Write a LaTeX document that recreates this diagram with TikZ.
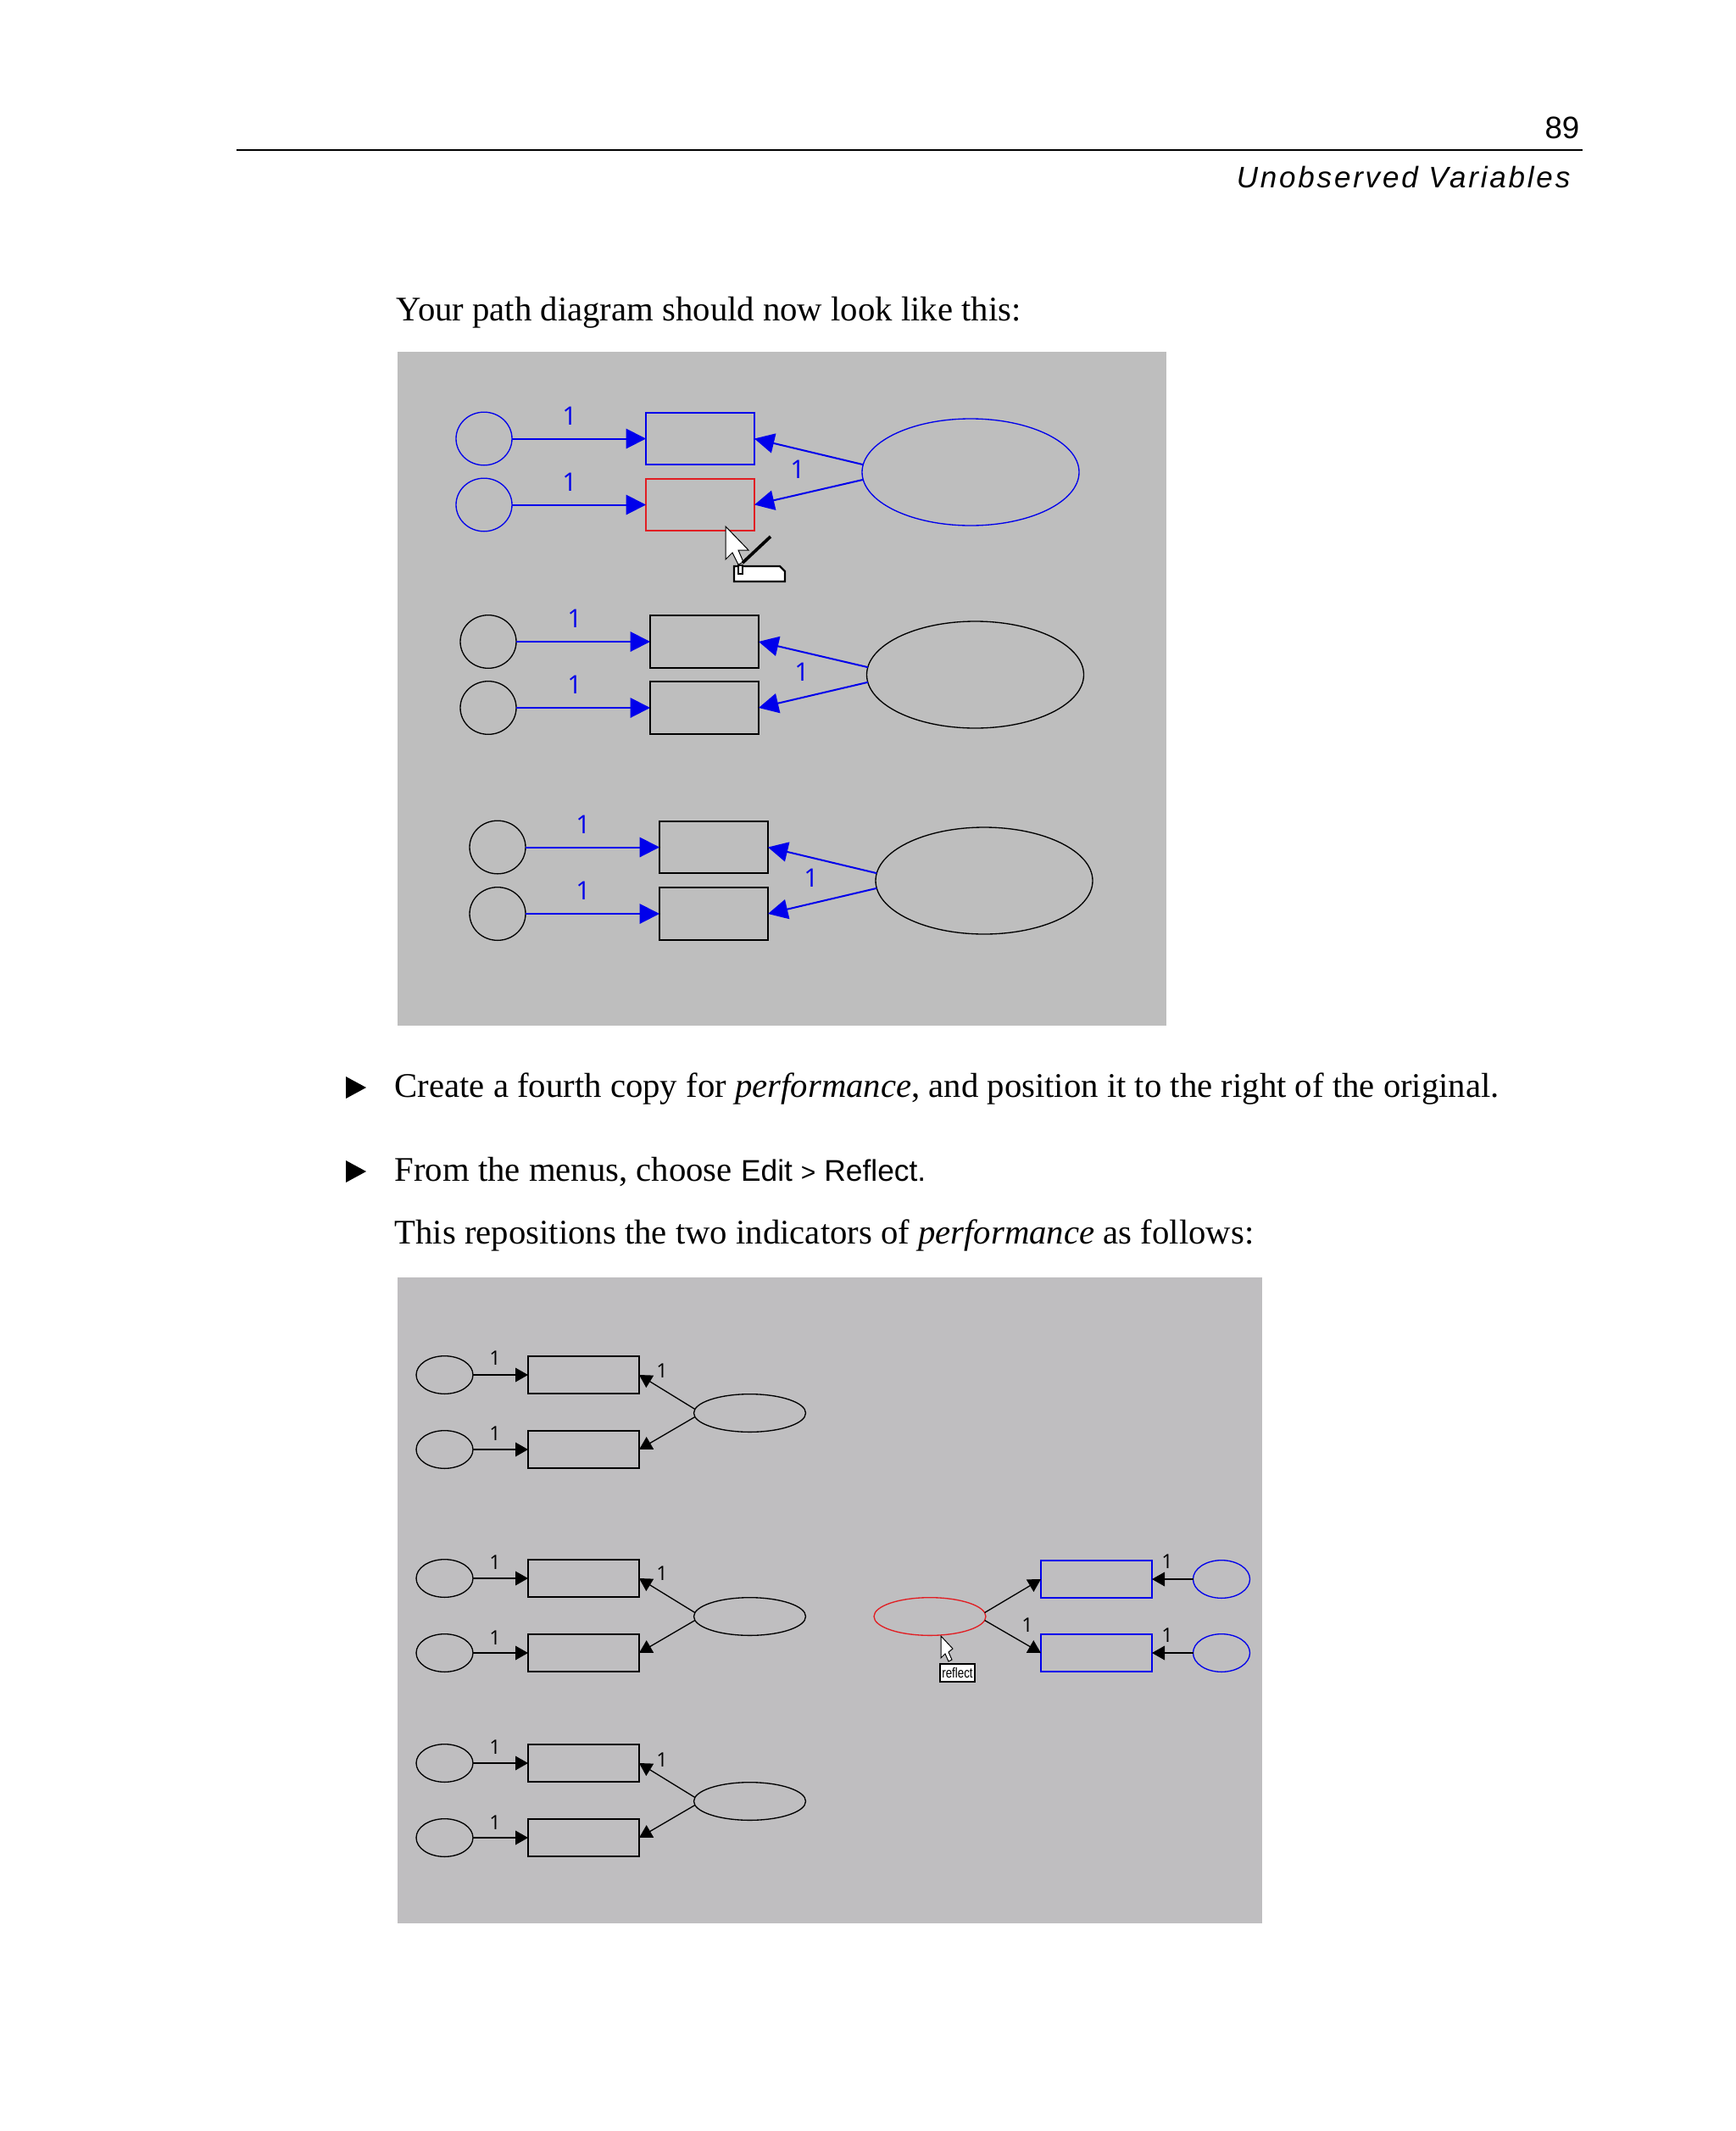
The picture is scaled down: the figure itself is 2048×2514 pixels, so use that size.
\documentclass[tikz,border=0pt]{standalone}
\usepackage{fontspec}
\setmainfont{Liberation Serif}
\setsansfont{Liberation Sans}
\newfontfamily\wtfont{Open Sans}
\usetikzlibrary{shapes.geometric,arrows.meta}
\definecolor{panelone}{RGB}{190,190,190}
\definecolor{paneltwo}{RGB}{191,190,192}
\definecolor{pathblue}{RGB}{0,0,235}
\definecolor{pathred}{RGB}{225,30,35}
\tikzset{
	obsbox/.style={draw,rectangle,minimum width=38.4pt,minimum height=18.4pt,inner sep=0pt,outer sep=0pt,line width=0.6pt},
	errbig/.style={draw,ellipse,minimum width=19.8pt,minimum height=18.8pt,inner sep=0pt,outer sep=0pt,line width=0.4pt},
	latbig/.style={draw,ellipse,minimum width=76.8pt,minimum height=37.8pt,inner sep=0pt,outer sep=0pt,line width=0.4pt},
	obsflat/.style={draw,rectangle,minimum width=39.3pt,minimum height=13.2pt,inner sep=0pt,outer sep=0pt,line width=0.4pt},
	errflat/.style={draw,ellipse,minimum width=20.1pt,minimum height=13.4pt,inner sep=0pt,outer sep=0pt,line width=0.4pt},
	latflat/.style={draw,ellipse,minimum width=39.6pt,minimum height=13.4pt,inner sep=0pt,outer sep=0pt,line width=0.4pt},
	bigpath/.style={pathblue,line width=0.6pt,-{Triangle[length=7pt,width=7pt]}},
	flatpath/.style={black,line width=0.4pt,-{Triangle[length=4.5pt,width=5pt]}},
	wtbig/.style={pathblue,font=\wtfont\fontsize{9}{10}\selectfont,inner sep=0pt},
	wtflat/.style={font=\wtfont\fontsize{7}{8}\selectfont,inner sep=0pt},
	booktext/.style={anchor=base west,inner sep=0pt,font=\fontsize{12.22}{14}\selectfont},
	mouse/.style={fill=white,draw=black,line width=0.3pt}
}
\begin{document}
\begin{tikzpicture}[x=0.3pt,y=-0.3pt]
	\useasboundingbox[fill=white] (0,0) rectangle (2048,2514);
	% running head
	\node[anchor=base east,inner sep=0pt,font=\sffamily\fontsize{11}{12}\selectfont] (pageno) at (1864,163) {89};
	\coordinate (ruleleft) at (279,177);
	\coordinate (ruleright) at (1867,177);
	\draw[line width=0.55pt] (ruleleft) -- (ruleright);
	\node[anchor=base east,inner sep=0pt,font=\sffamily\itshape\fontsize{10.5}{12}\selectfont\addfontfeatures{LetterSpace=8}] (runhead) at (1853,221) {Unobserved Variables};
	\node[booktext] (intro) at (467,378) {Your path diagram should now look like this:};
	% first screen shot
	\fill[panelone] (469,415) rectangle (1376,1210);
	\node[errbig,draw=pathblue] (ea) at (571,517.5) {};
	\node[errbig,draw=pathblue] (eb) at (571,595.5) {};
	\node[obsbox,draw=pathblue] (xa) at (826,517.5) {};
	\node[obsbox,draw=pathred] (xb) at (826,595.5) {};
	\node[latbig,draw=pathblue] (fa) at (1145,557) {};
	\draw[bigpath] (ea) -- (xa);
	\draw[bigpath] (eb) -- (xb);
	\draw[bigpath] (fa.176) -- (xa.east);
	\draw[bigpath] (fa.184) -- (xb.east);
	\node[wtbig] (wa) at (672,491) {1};
	\node[wtbig] (wb) at (672,569) {1};
	\node[wtbig] (wc) at (941,554) {1};
	% mouse with pen
	\draw[mouse] (856,621) -- (856,660) -- (864,652) -- (871,666) -- (877,663) -- (871,649) -- (883,649) -- cycle;
	\draw[line width=1.1pt] (876,664) -- (909,633);
	\draw[fill=white,line width=0.7pt] (866,686) -- (866,668) -- (920,668) -- (926,674) -- (926,686) -- cycle;
	\draw[fill=white,line width=0.4pt] (871,667) rectangle (876,677);
	% second group
	\node[errbig] (ec) at (576,757) {};
	\node[errbig] (ed) at (576,835) {};
	\node[obsbox] (xc) at (831,757) {};
	\node[obsbox] (xd) at (831,835) {};
	\node[latbig] (fb) at (1150.5,796) {};
	\draw[bigpath] (ec) -- (xc);
	\draw[bigpath] (ed) -- (xd);
	\draw[bigpath] (fb.176) -- (xc.east);
	\draw[bigpath] (fb.184) -- (xd.east);
	\node[wtbig] (wd) at (678,730) {1};
	\node[wtbig] (we) at (678,808) {1};
	\node[wtbig] (wf) at (946,793) {1};
	% third group
	\node[errbig] (ee) at (587,999.5) {};
	\node[errbig] (ef) at (587,1078) {};
	\node[obsbox] (xe) at (842,999.5) {};
	\node[obsbox] (xf) at (842,1078) {};
	\node[latbig] (fc) at (1161,1039) {};
	\draw[bigpath] (ee) -- (xe);
	\draw[bigpath] (ef) -- (xf);
	\draw[bigpath] (fc.176) -- (xe.east);
	\draw[bigpath] (fc.184) -- (xf.east);
	\node[wtbig] (wg) at (688,973) {1};
	\node[wtbig] (wh) at (688,1051) {1};
	\node[wtbig] (wi) at (957,1036) {1};
	% the text between
	\fill (408,1270) -- (408,1296) -- (432,1283) -- cycle;
	\node[booktext] (stepa) at (465,1294) {Create a fourth copy for \textit{performance}, and position it to the right of the original.};
	\fill (408,1369) -- (408,1395) -- (432,1382) -- cycle;
	\node[booktext] (stepb) at (465,1393) {From the menus, choose {\sffamily\fontsize{10.6}{14}\selectfont Edit\kern3pt{\fontsize{9}{14}\selectfont>}\kern3pt Reflect.}};
	\node[booktext] (stepc) at (465,1467) {This repositions the two indicators of \textit{performance} as follows:};
	% second screen shot
	\fill[paneltwo] (469,1507) rectangle (1489,2269);
	\node[errflat] (ga) at (524.5,1622) {};
	\node[errflat] (gb) at (524.5,1710) {};
	\node[obsflat] (ya) at (688.5,1622) {};
	\node[obsflat] (yb) at (688.5,1710) {};
	\node[latflat] (ha) at (884.5,1667) {};
	\draw[flatpath] (ga) -- (ya);
	\draw[flatpath] (gb) -- (yb);
	\draw[flatpath] (ha.176) -- (ya.east);
	\draw[flatpath] (ha.184) -- (yb.east);
	\node[wtflat] (va) at (584,1602) {1};
	\node[wtflat] (vb) at (584,1691) {1};
	\node[wtflat] (vc) at (781,1617) {1};
	% next row
	\node[errflat] (gc) at (524.5,1862) {};
	\node[errflat] (gd) at (524.5,1950) {};
	\node[obsflat] (yc) at (688.5,1862) {};
	\node[obsflat] (yd) at (688.5,1950) {};
	\node[latflat] (hb) at (884.5,1907) {};
	\draw[flatpath] (gc) -- (yc);
	\draw[flatpath] (gd) -- (yd);
	\draw[flatpath] (hb.176) -- (yc.east);
	\draw[flatpath] (hb.184) -- (yd.east);
	\node[wtflat] (vd) at (584,1843) {1};
	\node[wtflat] (ve) at (584,1932) {1};
	\node[wtflat] (vf) at (781,1856) {1};
	% last row
	\node[errflat] (ge) at (524.5,2080) {};
	\node[errflat] (gf) at (524.5,2168) {};
	\node[obsflat] (ye) at (688.5,2080) {};
	\node[obsflat] (yf) at (688.5,2168) {};
	\node[latflat] (hc) at (884.5,2125) {};
	\draw[flatpath] (ge) -- (ye);
	\draw[flatpath] (gf) -- (yf);
	\draw[flatpath] (hc.176) -- (ye.east);
	\draw[flatpath] (hc.184) -- (yf.east);
	\node[wtflat] (vg) at (584,2061) {1};
	\node[wtflat] (vh) at (584,2150) {1};
	\node[wtflat] (vi) at (781,2076) {1};
	% the reflected copy
	\node[latflat,draw=pathred] (hd) at (1097,1907) {};
	\node[obsflat,draw=pathblue] (yg) at (1293.5,1863) {};
	\node[obsflat,draw=pathblue] (yh) at (1293.5,1950) {};
	\node[errflat,draw=pathblue] (gg) at (1441,1863) {};
	\node[errflat,draw=pathblue] (gh) at (1441,1950) {};
	\draw[flatpath] (hd.4) -- (yg.west);
	\draw[flatpath] (hd.-4) -- (yh.west);
	\draw[flatpath] (gg) -- (yg);
	\draw[flatpath] (gh) -- (yh);
	\node[wtflat] (vj) at (1377,1842) {1};
	\node[wtflat] (vk) at (1377,1929) {1};
	\node[wtflat] (vl) at (1212,1917) {1};
	% mouse with its tip
	\draw[mouse] (1110,1930) -- (1110,1956) -- (1115,1951) -- (1119,1960) -- (1123,1958) -- (1119,1949) -- (1124,1945) -- cycle;
	\node[draw,fill=white,line width=0.4pt,inner sep=0pt,minimum width=12.3pt,minimum height=6.3pt,font=\sffamily\fontsize{5}{6}\selectfont] (tip) at (1129.5,1973.5) {\scalebox{.8}[1]{reflect}};
\end{tikzpicture}
\end{document}
